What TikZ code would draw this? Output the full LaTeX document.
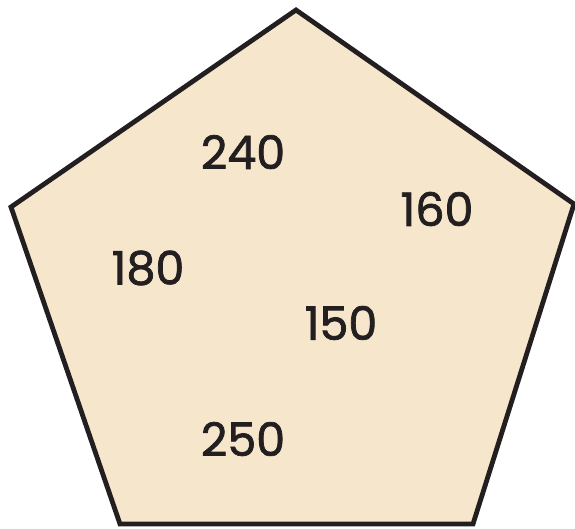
\documentclass[tikz,border=0pt]{standalone}
\usepackage{fontspec}
\setmainfont{Poppins}
\newfontfamily\numfont[FakeBold=1.6]{Poppins}
\definecolor{pentfill}{HTML}{F5E6CC}
\definecolor{ink}{HTML}{231F20}
\begin{document}
\begin{tikzpicture}[x=1pt,y=-1pt,
  num/.style={text=ink,font=\numfont\fontsize{46}{46}\selectfont}]
\useasboundingbox (0,0) rectangle (575,528);
\coordinate (t) at (296,10);
\coordinate (r) at (574,204);
\coordinate (br) at (473,524);
\coordinate (bl) at (120,524);
\coordinate (l) at (11,207);
\draw[line width=4.8pt,line join=miter,fill=pentfill,draw=ink] (t) -- (r) -- (br) -- (bl) -- (l) -- cycle;
\node[num] (n240) at (243,152) {240};
\node[num] (n160) at (437,209) {160};
\node[num] (n180) at (148,268) {180};
\node[num] (n150) at (341,323) {150};
\node[num] (n250) at (243,439) {250};
\end{tikzpicture}
\end{document}
